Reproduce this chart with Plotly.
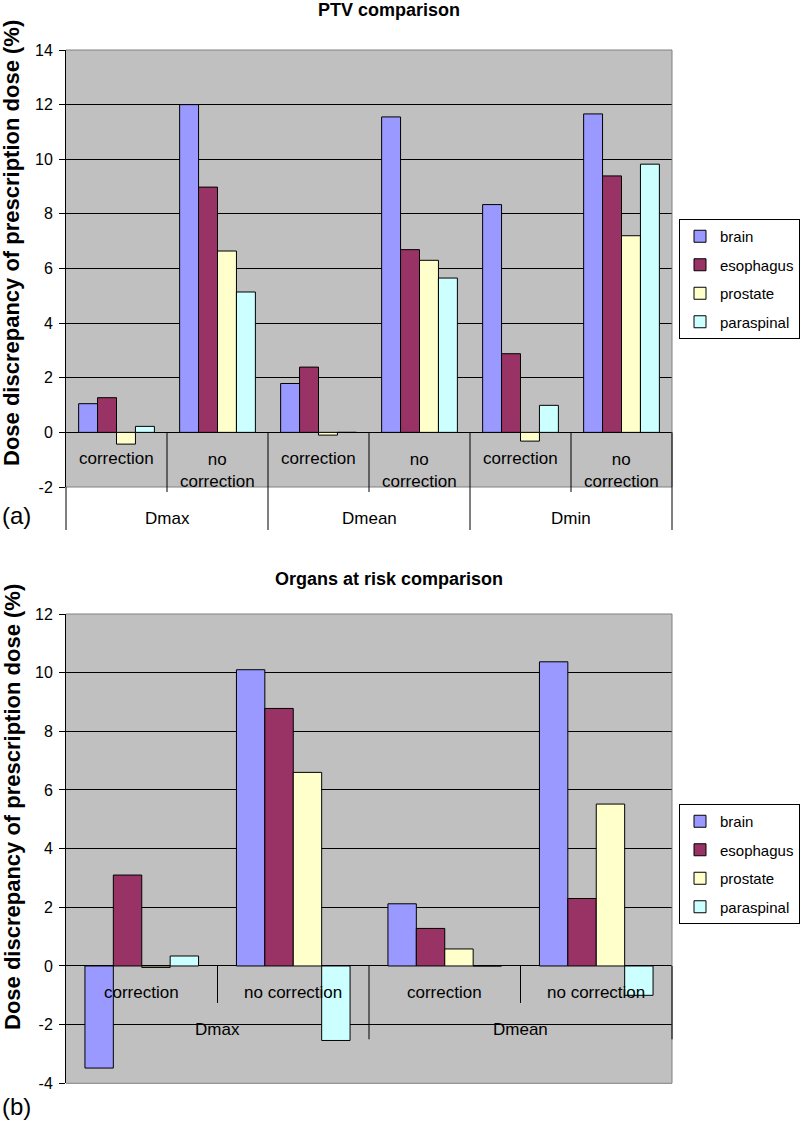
import plotly.graph_objects as go

# ---------------- data ----------------
series_names = ["brain", "esophagus", "prostate", "paraspinal"]
series_colors = ["#9999FF", "#993366", "#FFFFCC", "#CCFFFF"]

# (a) PTV comparison
metrics_a = ["Dmax", "Dmean", "Dmin"]
conditions_a = ["correction", "no correction"]
brain_a = [1.05, 12.0, 1.79, 11.55, 8.34, 11.66]
esophagus_a = [1.27, 8.98, 2.39, 6.69, 2.88, 9.39]
prostate_a = [-0.43, 6.64, -0.10, 6.30, -0.32, 7.20]
paraspinal_a = [0.22, 5.14, 0.0, 5.65, 0.99, 9.82]
ticks_a = [-2, 0, 2, 4, 6, 8, 10, 12, 14]
ticklabels_a = ["-2", "0", "2", "4", "6", "8", "10", "12", "14"]

# (b) Organs at risk comparison
metrics_b = ["Dmax", "Dmean"]
conditions_b = ["correction", "no correction"]
brain_b = [-3.48, 10.10, 2.12, 10.37]
esophagus_b = [3.10, 8.78, 1.28, 2.30]
prostate_b = [-0.05, 6.60, 0.58, 5.52]
paraspinal_b = [0.34, -2.54, 0.0, -1.00]
ticks_b = [-4, -2, 0, 2, 4, 6, 8, 10, 12]
ticklabels_b = ["-4", "-2", "0", "2", "4", "6", "8", "10", "12"]

titles = ["PTV comparison", "Organs at risk comparison"]
ytitle = "Dose discrepancy of prescription dose (%)"
panel_labels = ["(a)", "(b)"]

FONT = "Liberation Sans, Arial, sans-serif"
H = 1123.0
W = 800.0

fig = go.Figure()

values_a = [brain_a, esophagus_a, prostate_a, paraspinal_a]
values_b = [brain_b, esophagus_b, prostate_b, paraspinal_b]
cats_a = [(m, c) for m in metrics_a for c in conditions_a]
cats_b = [(m, c) for m in metrics_b for c in conditions_b]
xa = list(range(len(cats_a)))
xb = list(range(len(cats_b)))

for name, color, vals in zip(series_names, series_colors, values_a):
    fig.add_trace(go.Bar(
        x=xa, y=vals, name=name, xaxis="x", yaxis="y", legend="legend",
        legendgroup=name + "_a",
        marker=dict(color=color, line=dict(color="black", width=1)),
    ))
for name, color, vals in zip(series_names, series_colors, values_b):
    fig.add_trace(go.Bar(
        x=xb, y=vals, name=name, xaxis="x2", yaxis="y2", legend="legend2",
        legendgroup=name + "_b",
        marker=dict(color=color, line=dict(color="black", width=1)),
    ))

xdom = [66 / W, 672 / W]
ydom_a = [1 - 487 / H, 1 - 50 / H]
ydom_b = [1 - 1083.3 / H, 1 - 614 / H]
range_a = [-2, 14]
range_b = [-4, 12]


def yaxis_cfg(dom, rng, tv, tt, anchor):
    return dict(
        domain=dom, range=rng, tickvals=tv, ticktext=tt, anchor=anchor,
        showgrid=True, gridcolor="black", gridwidth=1,
        zeroline=True, zerolinecolor="black", zerolinewidth=1,
        showline=True, linecolor="black", linewidth=1,
        ticks="outside", ticklen=6, tickcolor="black", tickwidth=1,
        ticklabelstandoff=3,
        tickfont=dict(family=FONT, size=16, color="black"),
        fixedrange=True,
    )


def xaxis_cfg(rng, anchor):
    return dict(
        domain=xdom, range=rng, anchor=anchor, showticklabels=False,
        showgrid=False, zeroline=False, showline=False, ticks="",
        fixedrange=True,
    )


shapes = []
annotations = []


def border(xr, yr):
    line = dict(color="#808080", width=1)
    shapes.append(dict(type="line", xref=xr + " domain", yref=yr + " domain",
                       x0=0, x1=1, y0=1, y1=1, line=line, layer="above"))
    shapes.append(dict(type="line", xref=xr + " domain", yref=yr + " domain",
                       x0=1, x1=1, y0=0, y1=1, line=line, layer="above"))
    shapes.append(dict(type="line", xref=xr + " domain", yref=yr + " domain",
                       x0=0, x1=1, y0=0, y1=0, line=line, layer="above"))


border("x", "y")
border("x2", "y2")

blk = dict(color="black", width=1)

# ---- panel (a) category dividers and labels ----
span_a = range_a[1] - range_a[0]
zero_a = (0 - range_a[0]) / span_a
plot_h_a = (ydom_a[1] - ydom_a[0]) * H
inner_end_a = -5 / plot_h_a
outer_end_a = -43 / plot_h_a
n_cond_a = len(conditions_a)
for i in range(len(metrics_a)):
    xi = i * n_cond_a + 0.5
    shapes.append(dict(type="line", xref="x", yref="y domain", x0=xi, x1=xi,
                       y0=zero_a, y1=inner_end_a, line=blk, layer="above"))
for i in range(1, len(metrics_a)):
    xi = i * n_cond_a - 0.5
    shapes.append(dict(type="line", xref="x", yref="y domain", x0=xi, x1=xi,
                       y0=zero_a, y1=outer_end_a, line=blk, layer="above"))
shapes.append(dict(type="line", xref="x domain", yref="y domain", x0=0, x1=0,
                   y0=0, y1=outer_end_a, line=blk, layer="above"))
shapes.append(dict(type="line", xref="x domain", yref="y domain", x0=1, x1=1,
                   y0=zero_a, y1=outer_end_a, line=blk, layer="above"))

for j, (m, c) in enumerate(cats_a):
    txt = c.replace(" ", "<br>")
    yv = -0.97 if "<br>" not in txt else -1.4
    annotations.append(dict(x=j, y=yv, xref="x", yref="y", text=txt,
                            showarrow=False, xanchor="center", yanchor="middle",
                            font=dict(family=FONT, size=17, color="black")))
for i, m in enumerate(metrics_a):
    annotations.append(dict(x=i * n_cond_a + 0.5, y=-31 / plot_h_a, xref="x",
                            yref="y domain", text=m, showarrow=False,
                            xanchor="center", yanchor="middle",
                            font=dict(family=FONT, size=17, color="black")))

# ---- panel (b) category dividers and labels ----
n_cond_b = len(conditions_b)
for i in range(len(metrics_b)):
    xi = i * n_cond_b + 0.5
    shapes.append(dict(type="line", xref="x2", yref="y2", x0=xi, x1=xi,
                       y0=0, y1=-1.26, line=blk, layer="above"))
for i in range(1, len(metrics_b)):
    xi = i * n_cond_b - 0.5
    shapes.append(dict(type="line", xref="x2", yref="y2", x0=xi, x1=xi,
                       y0=0, y1=-2.5, line=blk, layer="above"))
shapes.append(dict(type="line", xref="x2 domain", yref="y2", x0=1, x1=1,
                   y0=0, y1=-2.5, line=blk, layer="above"))

for j, (m, c) in enumerate(cats_b):
    annotations.append(dict(x=j, y=-0.89, xref="x2", yref="y2", text=c,
                            showarrow=False, xanchor="center", yanchor="middle",
                            font=dict(family=FONT, size=17, color="black")))
for i, m in enumerate(metrics_b):
    annotations.append(dict(x=i * n_cond_b + 0.5, y=-2.16, xref="x2", yref="y2",
                            text=m, showarrow=False, xanchor="center",
                            yanchor="middle",
                            font=dict(family=FONT, size=17, color="black")))

# ---- titles, y titles, panel labels ----
for t, yp in zip(titles, [10, 579]):
    annotations.append(dict(x=389 / W, y=1 - yp / H, xref="paper", yref="paper",
                            text="<b>" + t + "</b>", showarrow=False,
                            xanchor="center", yanchor="middle",
                            font=dict(family=FONT, size=18, color="black")))
for yp in [243, 807]:
    annotations.append(dict(x=12 / W, y=1 - yp / H, xref="paper", yref="paper",
                            text="<b>" + ytitle + "</b>", showarrow=False,
                            textangle=-90, xanchor="center", yanchor="middle",
                            font=dict(family=FONT, size=22, color="black")))
for lab, yp in zip(panel_labels, [515, 1106]):
    annotations.append(dict(x=0, y=1 - yp / H, xref="paper", yref="paper",
                            text=lab, showarrow=False, xanchor="left",
                            yanchor="middle",
                            font=dict(family=FONT, size=24, color="black")))

legend_common = dict(
    xanchor="left", yanchor="top", bgcolor="white", bordercolor="black",
    borderwidth=1, font=dict(family=FONT, size=15, color="black"),
    itemwidth=30, traceorder="grouped", tracegroupgap=6,
)

fig.update_layout(
    width=800, height=1123,
    margin=dict(l=0, r=0, t=0, b=0, pad=0, autoexpand=False),
    paper_bgcolor="white", plot_bgcolor="#C0C0C0",
    barmode="group", bargap=0.25, bargroupgap=0,
    font=dict(family=FONT, color="black"),
    xaxis=xaxis_cfg([-0.5, len(cats_a) - 0.5], "y"),
    yaxis=yaxis_cfg(ydom_a, range_a, ticks_a, ticklabels_a, "x"),
    xaxis2=xaxis_cfg([-0.5, len(cats_b) - 0.5], "y2"),
    yaxis2=yaxis_cfg(ydom_b, range_b, ticks_b, ticklabels_b, "x2"),
    legend=dict(x=679 / W, y=1 - 219 / H, **legend_common),
    legend2=dict(x=679 / W, y=1 - 804 / H, **legend_common),
    shapes=shapes, annotations=annotations, showlegend=True,
)

fig.write_html(
    "out.html",
    config={"displayModeBar": False, "staticPlot": True},
    post_script="document.body.style.margin='0';document.body.style.padding='0';",
)
